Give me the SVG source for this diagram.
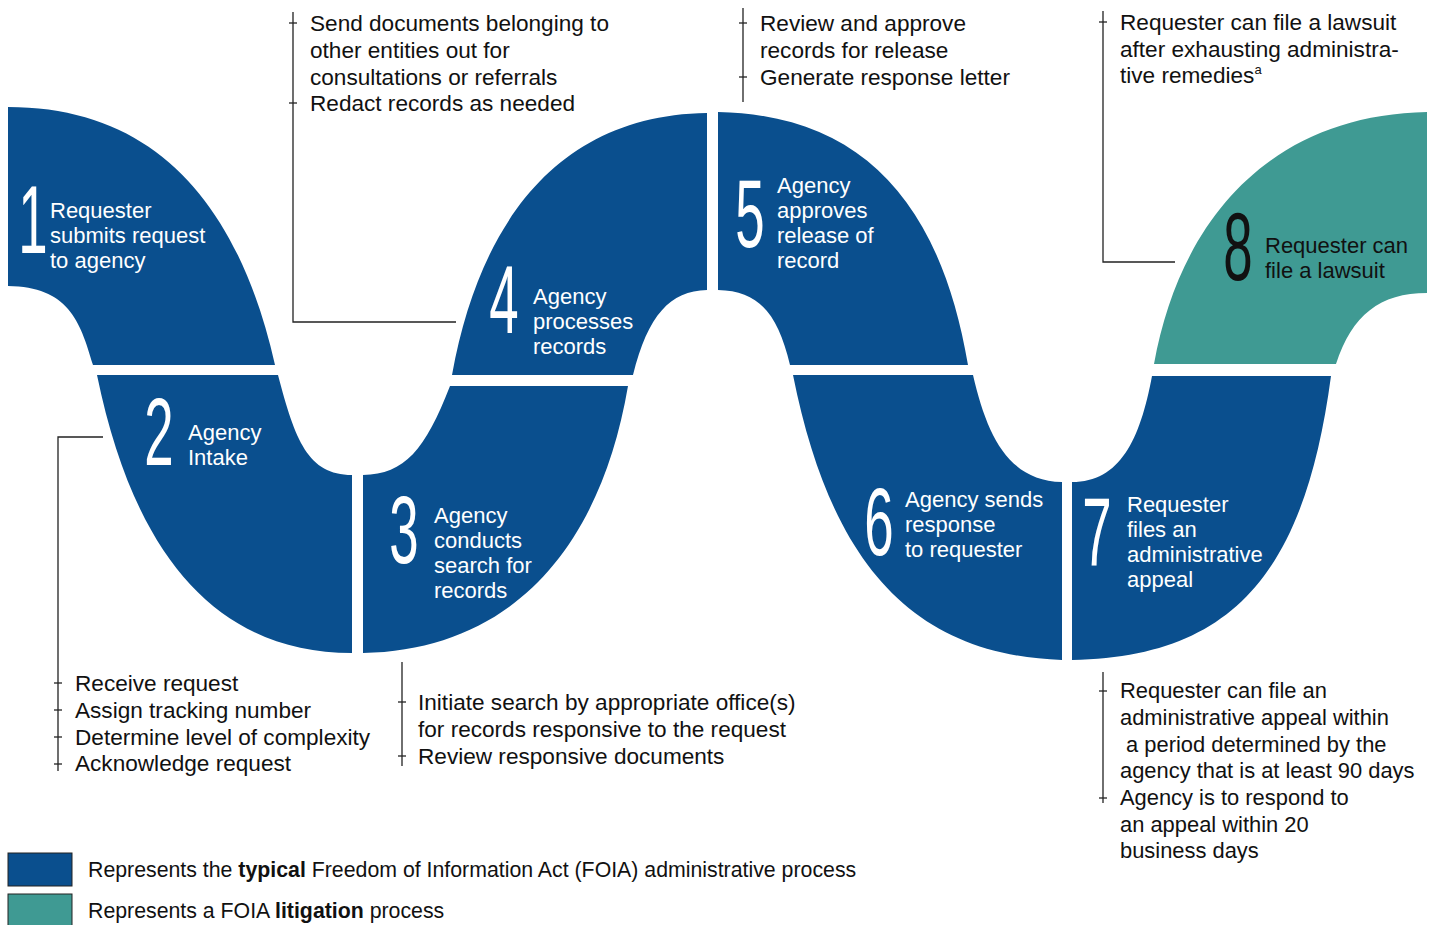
<svg xmlns="http://www.w3.org/2000/svg" width="1433" height="925" viewBox="0 0 1433 925">
<style>
.blue{fill:#0a4f8e}
.teal{fill:#3f9a93}
.lbl{font-family:"Liberation Sans",Arial,sans-serif;font-size:22px;fill:#fff}
.lbl8{font-family:"Liberation Sans",Arial,sans-serif;font-size:22px;fill:#111}
.num{font-family:"Liberation Sans",Arial,sans-serif;font-size:96px;fill:#fff;text-anchor:middle}
.note{font-family:"Liberation Sans",Arial,sans-serif;font-size:22.6px;fill:#111}
.leg{font-family:"Liberation Sans",Arial,sans-serif;font-size:21.3px;fill:#111}
.ln{stroke:#222;stroke-width:1.3;fill:none}
</style>
<rect width="1433" height="925" fill="#fff"/>

<g id="step1">
<path class="blue" d="M8,107 C160,107 240,210 275,365 L93,365 C80,320 68,287 8,286 Z"/>
<text class="num" transform="translate(33,253) scale(0.55,1)">1</text>
<text class="lbl"><tspan x="50" y="218">Requester</tspan><tspan x="50" y="243">submits request</tspan><tspan x="50" y="268">to agency</tspan></text>
</g>

<g id="step2">
<path class="blue" d="M97,375 L278,375 C295,440 308,475 352,475 L352,653 C220,653 135,560 97,375 Z"/>
<text class="num" transform="translate(159,465) scale(0.55,1)">2</text>
<text class="lbl"><tspan x="188" y="440">Agency</tspan><tspan x="188" y="465">Intake</tspan></text>
</g>

<g id="step3">
<path class="blue" d="M363,475 C405,474 425,450 450,386 L628,386 C600,550 510,650 363,653 Z"/>
<text class="num" transform="translate(404,563) scale(0.55,1)">3</text>
<text class="lbl"><tspan x="434" y="523">Agency</tspan><tspan x="434" y="548">conducts</tspan><tspan x="434" y="573">search for</tspan><tspan x="434" y="598">records</tspan></text>
</g>

<g id="step4">
<path class="blue" d="M452,375 C480,220 560,115 707,113 L707,290 C670,291 648,315 633,375 Z"/>
<text class="num" transform="translate(504,333) scale(0.55,1)">4</text>
<text class="lbl"><tspan x="533" y="304">Agency</tspan><tspan x="533" y="329">processes</tspan><tspan x="533" y="354">records</tspan></text>
</g>

<g id="step5">
<path class="blue" d="M718,112 C860,115 940,200 968,365 L790,365 C778,315 760,291 718,290 Z"/>
<text class="num" transform="translate(750,247) scale(0.55,1)">5</text>
<text class="lbl"><tspan x="777" y="193">Agency</tspan><tspan x="777" y="218">approves</tspan><tspan x="777" y="243">release of</tspan><tspan x="777" y="268">record</tspan></text>
</g>

<g id="step6">
<path class="blue" d="M793,375 L973,375 C987,435 1008,481 1062,482 L1062,660 C910,655 830,560 793,375 Z"/>
<text class="num" transform="translate(879,555) scale(0.55,1)">6</text>
<text class="lbl"><tspan x="905" y="507">Agency sends</tspan><tspan x="905" y="532">response</tspan><tspan x="905" y="557">to requester</tspan></text>
</g>

<g id="step7">
<path class="blue" d="M1152,376 L1331,376 C1305,570 1235,657 1072,660 L1072,482 C1120,482 1140,440 1152,376 Z"/>
<text class="num" transform="translate(1097,565) scale(0.55,1)">7</text>
<text class="lbl"><tspan x="1127" y="512">Requester</tspan><tspan x="1127" y="537">files an</tspan><tspan x="1127" y="562">administrative</tspan><tspan x="1127" y="587">appeal</tspan></text>
</g>

<g id="step8">
<path class="teal" d="M1427,112 L1427,293 C1380,293 1352,315 1336,364 L1154,364 C1180,220 1270,115 1427,112 Z"/>
<text class="num" style="fill:#111" transform="translate(1238,280) scale(0.55,1)">8</text>
<text class="lbl8"><tspan x="1265" y="253">Requester can</tspan><tspan x="1265" y="278">file a lawsuit</tspan></text>
</g>

<g id="connectors">
<polyline class="ln" points="456,322 293,322 293,12"/>
<line class="ln" x1="289" y1="23" x2="297" y2="23"/>
<line class="ln" x1="289" y1="103" x2="297" y2="103"/>
<line class="ln" x1="743" y1="8" x2="743" y2="102"/>
<line class="ln" x1="739" y1="23" x2="747" y2="23"/>
<line class="ln" x1="739" y1="77" x2="747" y2="77"/>
<polyline class="ln" points="1175,262 1103,262 1103,11"/>
<line class="ln" x1="1099" y1="22" x2="1107" y2="22"/>
<polyline class="ln" points="103,437 58,437 58,771"/>
<line class="ln" x1="54" y1="683" x2="62" y2="683"/>
<line class="ln" x1="54" y1="710" x2="62" y2="710"/>
<line class="ln" x1="54" y1="737" x2="62" y2="737"/>
<line class="ln" x1="54" y1="764" x2="62" y2="764"/>
<line class="ln" x1="402" y1="662" x2="402" y2="766"/>
<line class="ln" x1="398" y1="702" x2="406" y2="702"/>
<line class="ln" x1="398" y1="756" x2="406" y2="756"/>
<line class="ln" x1="1103" y1="672" x2="1103" y2="803"/>
<line class="ln" x1="1099" y1="691" x2="1107" y2="691"/>
<line class="ln" x1="1099" y1="798" x2="1107" y2="798"/>
</g>

<g id="notes">
<text class="note"><tspan x="310" y="31">Send documents belonging to</tspan><tspan x="310" y="58">other entities out for</tspan><tspan x="310" y="85">consultations or referrals</tspan><tspan x="310" y="111">Redact records as needed</tspan></text>
<text class="note"><tspan x="760" y="31">Review and approve</tspan><tspan x="760" y="58">records for release</tspan><tspan x="760" y="85">Generate response letter</tspan></text>
<text class="note"><tspan x="1120" y="30">Requester can file a lawsuit</tspan><tspan x="1120" y="56.5">after exhausting administra-</tspan><tspan x="1120" y="83">tive remedies<tspan font-size="13" dy="-9">a</tspan></tspan></text>
<text class="note"><tspan x="75" y="691">Receive request</tspan><tspan x="75" y="717.5">Assign tracking number</tspan><tspan x="75" y="744.5">Determine level of complexity</tspan><tspan x="75" y="771">Acknowledge request</tspan></text>
<text class="note"><tspan x="418" y="710">Initiate search by appropriate office(s)</tspan><tspan x="418" y="737">for records responsive to the request</tspan><tspan x="418" y="763.5">Review responsive documents</tspan></text>
<text class="note" style="font-size:21.9px"><tspan x="1120" y="698">Requester can file an</tspan><tspan x="1120" y="725">administrative appeal within</tspan><tspan x="1120" y="752"> a period determined by the</tspan><tspan x="1120" y="778">agency that is at least 90 days</tspan><tspan x="1120" y="805">Agency is to respond to</tspan><tspan x="1120" y="832">an appeal within 20</tspan><tspan x="1120" y="858">business days</tspan></text>
</g>

<g id="legend">
<rect x="8" y="853" width="64" height="33" class="blue" stroke="#222" stroke-width="1"/>
<rect x="8" y="894" width="64" height="34" class="teal" stroke="#222" stroke-width="1"/>
<text class="leg" x="88" y="877">Represents the <tspan font-weight="bold">typical</tspan> Freedom of Information Act (FOIA) administrative process</text>
<text class="leg" x="88" y="918">Represents a FOIA <tspan font-weight="bold">litigation</tspan> process</text>
</g>
</svg>
